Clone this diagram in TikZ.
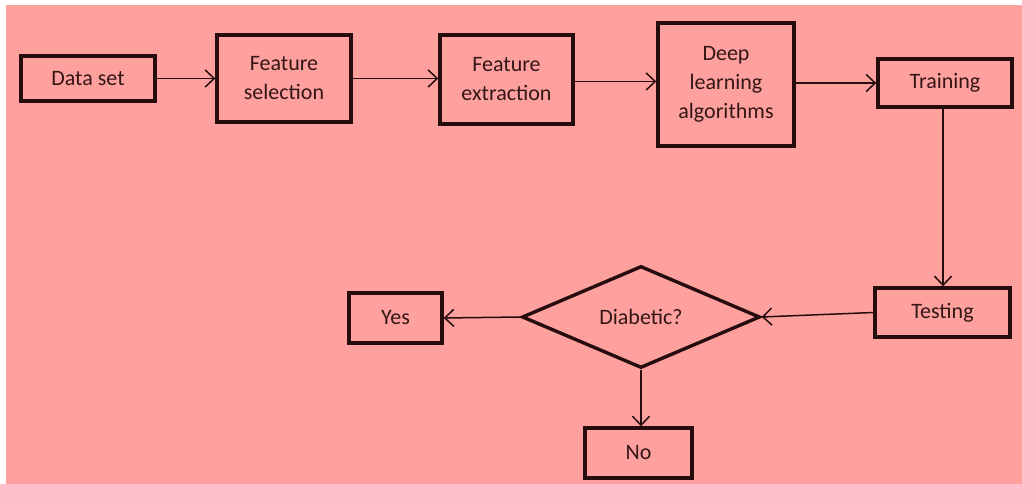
\documentclass[tikz,border=0pt]{standalone}
\usepackage{fontspec}
\setmainfont{Carlito}
\usetikzlibrary{shapes.geometric,arrows.meta}
\definecolor{bgpink}{RGB}{253,160,158}
\definecolor{ink}{RGB}{38,12,12}
\definecolor{txt}{RGB}{52,22,22}
\tikzset{
  x=1pt,y=1pt,
  box/.style={draw=ink,line width=3.4pt,fill=none,inner sep=0pt,align=center,
    text=txt,font=\fontsize{22}{29}\selectfont},
  decision/.style={diamond,draw=ink,line width=3.4pt,inner sep=0pt,align=center,
    text=txt,font=\fontsize{22}{29}\selectfont},
  conn/.style={draw=ink,line width=1.5pt,-{Straight Barb[length=9pt,width=17pt,line width=1.5pt]}},
}
\begin{document}
\begin{tikzpicture}
\useasboundingbox (0,0) rectangle (1022,484);
\fill[white] (0,0) rectangle (1022,484);
\fill[bgpink] (6,0) rectangle (1022,479);
\node[box,minimum width=134pt,minimum height=45pt] (ds) at (88,405.5) {Data set};
\node[box,minimum width=134pt,minimum height=87pt] (fs) at (284,405.5) {Feature\\selection};
\node[box,minimum width=133pt,minimum height=89pt] (fe) at (506.5,404.5) {Feature\\extraction};
\node[box,minimum width=136pt,minimum height=123pt] (dl) at (726,399.5) {Deep\\learning\\algorithms};
\node[box,minimum width=134pt,minimum height=48pt] (tr) at (945,401) {Training};
\node[box,minimum width=135pt,minimum height=49pt] (te) at (942.5,171.5) {Testing};
\node[decision,minimum width=238pt,minimum height=102pt,aspect=2.33] (dc) at (641,167) {Diabetic?};
\node[box,minimum width=93pt,minimum height=50pt] (yes) at (395.5,166) {Yes};
\node[box,minimum width=107pt,minimum height=50pt] (no) at (638.5,31) {No};
\coordinate (feo) at ([yshift=-2pt]fe.east);
\draw[conn] (ds.east) -- (fs.west |- ds.east);
\draw[conn] (fs.east) -- (fe.west |- fs.east);
\draw[conn] (feo) -- (dl.west |- feo);
\draw[conn] (dl.east |- tr.west) -- (tr.west);
\draw[conn] (tr.south -| 943,0) -- (te.north -| 943,0);
\draw[conn] (te.west) -- (dc.east);
\draw[conn] (dc.west) -- (yes.east);
\draw[conn] (dc.south) -- (no.north -| dc.south);
\end{tikzpicture}
\end{document}
